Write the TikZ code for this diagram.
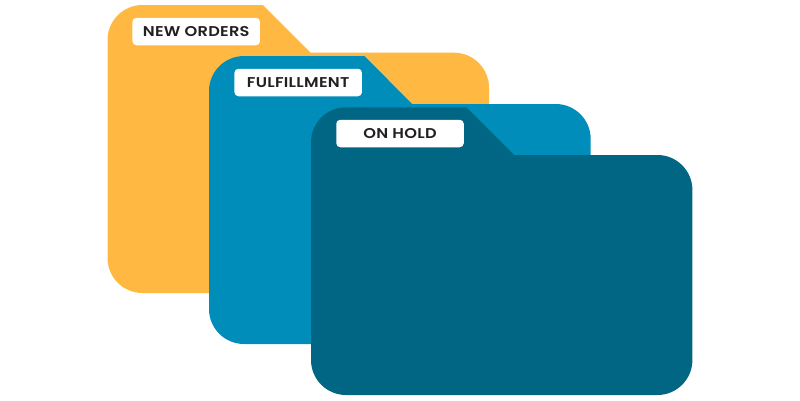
\documentclass[tikz,border=0pt]{standalone}
\usepackage{fontspec}
\setmainfont{Poppins SemiBold}[FakeStretch=1.14,LetterSpace=2]
\definecolor{folderyellow}{HTML}{FFB942}
\definecolor{folderblue}{HTML}{008DBA}
\definecolor{folderdark}{HTML}{006684}
\definecolor{labelink}{HTML}{231F20}
\tikzset{
  tablabel/.style={fill=white,draw=none,rounded corners=4pt,minimum width=127.5pt,minimum height=27.5pt,inner sep=0pt,
    text=labelink,font=\fontsize{14.2pt}{16pt}\selectfont,anchor=center}
}
\begin{document}
\begin{tikzpicture}[x=1pt,y=-1pt]
\useasboundingbox[fill=white] (0,0) rectangle (800,400);
\fill[folderyellow] (107.5,40) arc[start angle=180,end angle=90,radius=35pt] -- (263,5) -- (310.5,52.7) -- (454,52.7) arc[start angle=90,end angle=0,radius=35pt] -- (489,258) arc[start angle=0,end angle=-90,radius=35pt] -- (142.5,293) arc[start angle=-90,end angle=-180,radius=35pt] -- cycle;
\node[tablabel] (neworders) at (196.2,31.5) {NEW ORDERS};
\fill[folderblue] (209,91) arc[start angle=180,end angle=90,radius=35pt] -- (364.5,56) -- (412,104) -- (555.7,104) arc[start angle=90,end angle=0,radius=35pt] -- (590.7,309) arc[start angle=0,end angle=-90,radius=35pt] -- (244,344) arc[start angle=-90,end angle=-180,radius=35pt] -- cycle;
\node[tablabel] (fulfillment) at (298.2,82.5) {FULFILLMENT};
\fill[folderdark] (311,142.3) arc[start angle=180,end angle=90,radius=35pt] -- (466.5,107.3) -- (514,155) -- (657.4,155) arc[start angle=90,end angle=0,radius=35pt] -- (692.4,360) arc[start angle=0,end angle=-90,radius=35pt] -- (346,395) arc[start angle=-90,end angle=-180,radius=35pt] -- cycle;
\node[tablabel] (onhold) at (400,133.5) {ON HOLD};
\end{tikzpicture}
\end{document}
